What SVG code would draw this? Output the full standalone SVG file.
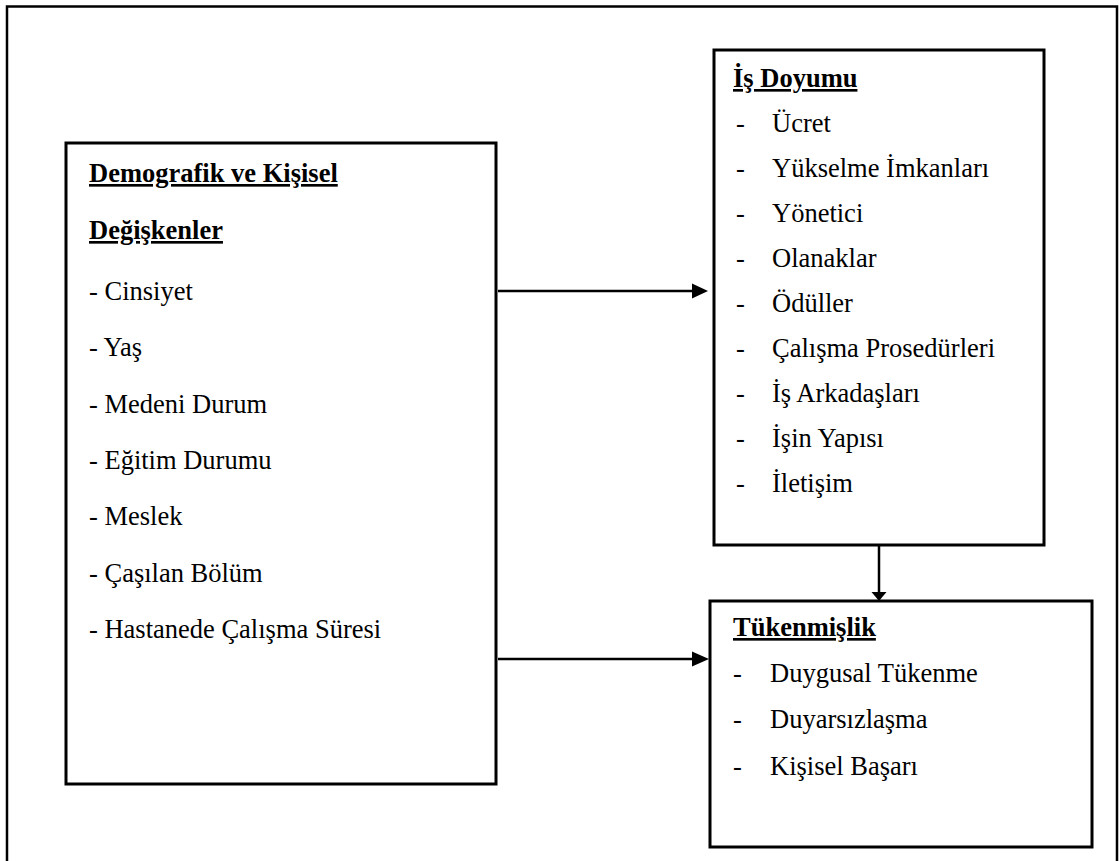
<svg xmlns="http://www.w3.org/2000/svg" width="1119" height="861" viewBox="0 0 1119 861">
<style>
.box{fill:none;stroke:#000;stroke-width:3}
.frame{fill:none;stroke:#000;stroke-width:2.5}
.t{font-family:"Liberation Serif","Times New Roman",serif;font-size:26.5px;fill:#000}
.h{font-weight:bold;text-decoration:underline}
.c{stroke:#000;stroke-width:2.5;fill:none}
.ah{fill:#000}
</style>
<rect width="1119" height="861" fill="#fff"/>
<path class="frame" d="M7,870 V6.5 H1117 V870"/>
<g id="demografik">
<rect class="box" x="66" y="143" width="430" height="641"/>
<text class="t h" x="89" y="182">Demografik ve Kişisel</text>
<text class="t h" x="89" y="239">Değişkenler</text>
<text class="t" x="89" y="300">- Cinsiyet</text>
<text class="t" x="89" y="356">- Yaş</text>
<text class="t" x="89" y="413">- Medeni Durum</text>
<text class="t" x="89" y="469">- Eğitim Durumu</text>
<text class="t" x="89" y="525">- Meslek</text>
<text class="t" x="89" y="582">- Çaşılan Bölüm</text>
<text class="t" x="89" y="638">- Hastanede Çalışma Süresi</text>
</g>
<g id="is-doyumu">
<rect class="box" x="714" y="50" width="330" height="495"/>
<text class="t h" x="733" y="87">İş Doyumu</text>
<g class="t">
<text x="736" y="132">-</text><text x="772" y="132">Ücret</text>
<text x="736" y="177">-</text><text x="772" y="177">Yükselme İmkanları</text>
<text x="736" y="222">-</text><text x="772" y="222">Yönetici</text>
<text x="736" y="267">-</text><text x="772" y="267">Olanaklar</text>
<text x="736" y="312">-</text><text x="772" y="312">Ödüller</text>
<text x="736" y="357">-</text><text x="772" y="357">Çalışma Prosedürleri</text>
<text x="736" y="402">-</text><text x="772" y="402">İş Arkadaşları</text>
<text x="736" y="447">-</text><text x="772" y="447">İşin Yapısı</text>
<text x="736" y="492">-</text><text x="772" y="492">İletişim</text>
</g>
</g>
<g id="tukenmislik">
<rect class="box" x="710" y="601" width="382" height="246"/>
<text class="t h" x="733" y="636">Tükenmişlik</text>
<g class="t">
<text x="733" y="682">-</text><text x="770" y="682">Duygusal Tükenme</text>
<text x="733" y="728">-</text><text x="770" y="728">Duyarsızlaşma</text>
<text x="733" y="775">-</text><text x="770" y="775">Kişisel Başarı</text>
</g>
</g>
<g id="connectors">
<line class="c" x1="498" y1="291" x2="694" y2="291"/>
<polygon class="ah" points="692,283.5 708,291 692,298.5"/>
<line class="c" x1="498" y1="659" x2="694" y2="659"/>
<polygon class="ah" points="692,651.5 709,659 692,666.5"/>
<line class="c" x1="879" y1="546" x2="879" y2="594"/>
<polygon class="ah" points="871.5,592 886.5,592 879,601"/>
</g>
</svg>
